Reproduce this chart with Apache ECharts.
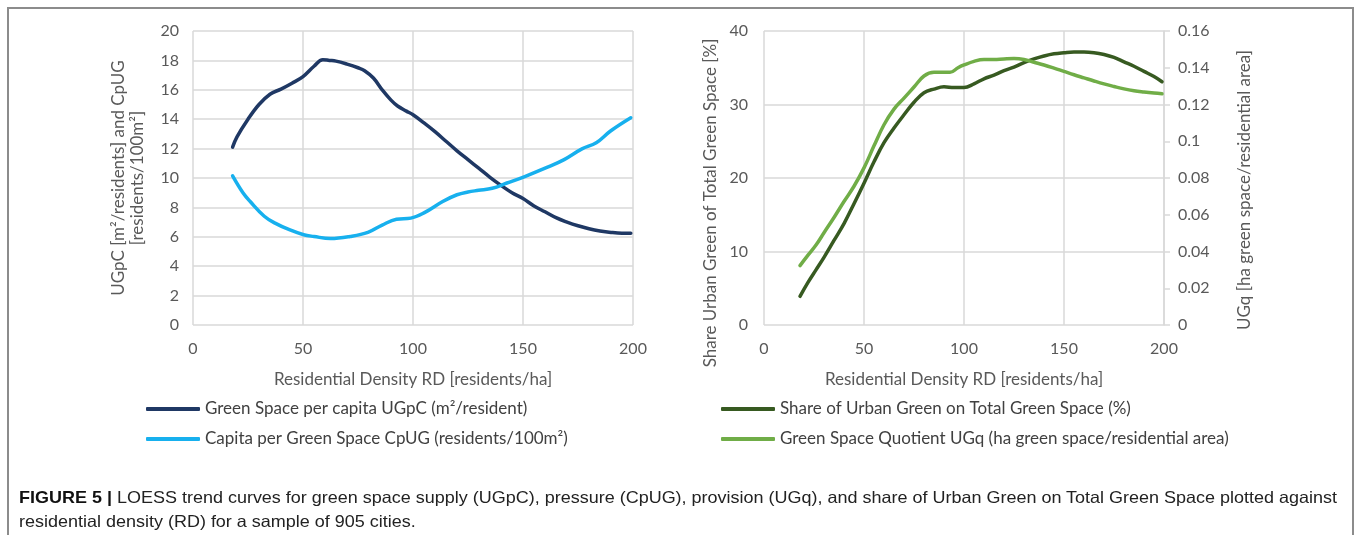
<!DOCTYPE html>
<html>
<head>
<meta charset="utf-8">
<script src="https://cdn.jsdelivr.net/npm/echarts@6/dist/echarts.min.js"></script>
<style>
html,body{margin:0;padding:0;background:#fff;}
#frame{position:absolute;left:7px;top:7px;width:1347px;height:540px;border:2px solid #8c8c8c;border-bottom:none;box-sizing:border-box;}
#chart{position:absolute;left:0;top:0;width:1357px;height:535px;}
.cap{position:absolute;left:19px;font-family:"Liberation Sans",Arial,sans-serif;font-size:16.5px;line-height:20px;color:#222;white-space:nowrap;transform-origin:0 50%;}
.cap b{color:#111;}
</style>
</head>
<body>
<div id="frame"></div>
<div id="chart"></div>
<div class="cap" id="cap1" style="top:487px"><b>FIGURE 5 |</b> LOESS trend curves for green space supply (UGpC), pressure (CpUG), provision (UGq), and share of Urban Green on Total Green Space plotted against</div>
<div class="cap" id="cap2" style="top:511px">residential density (RD) for a sample of 905 cities.</div>
<script>
// ---- data ----
const seriesNames = [
  "Green Space per capita UGpC (m²/resident)",
  "Capita per Green Space CpUG (residents/100m²)",
  "Share of Urban Green on Total Green Space (%)",
  "Green Space Quotient UGq (ha green space/residential area)"
];
const ugpcX = [18,20,25,30,35,40,45,50,55,59,62,65,70,75,78,82,86,90,93,97,100,105,110,115,120,125,130,135,140,145,150,155,160,165,170,175,180,185,190,195,199];
const ugpcY = [12.1,12.8,14.0,15.0,15.7,16.05,16.45,16.9,17.6,18.05,18.0,17.95,17.75,17.5,17.3,16.8,16.0,15.3,14.9,14.55,14.3,13.75,13.15,12.5,11.85,11.25,10.65,10.05,9.5,9.0,8.6,8.1,7.7,7.3,7.0,6.75,6.55,6.4,6.3,6.25,6.25];
const cpugX = [18,22.7,26,32.4,37.3,43.8,50.3,55,62.5,71.4,79.5,86,92.5,99,105.4,113.5,120,125,129.8,136,142.7,150.8,160.6,168.7,176.8,183.3,189.8,199];
const cpugY = [10.15,9.0,8.4,7.4,6.93,6.48,6.14,6.02,5.88,6.02,6.3,6.8,7.2,7.27,7.66,8.4,8.86,9.05,9.16,9.3,9.66,10.1,10.7,11.25,11.98,12.4,13.2,14.1];
const shareX = [18,22,26,30,35,40,45,50,55,60,65,70,75,80,85,90,95,100,105,110,115,120,125,130,135,140,145,150,155,160,165,170,175,180,185,190,195,199];
const shareY = [3.9,5.8,7.5,9.2,11.5,13.8,16.5,19.3,22.2,24.8,26.8,28.6,30.3,31.6,32.1,32.4,32.3,32.3,32.8,33.5,34.0,34.6,35.1,35.7,36.2,36.6,36.9,37.05,37.15,37.15,37.05,36.8,36.4,35.8,35.2,34.5,33.8,33.1];
const ugqX = [18,22,26,30,35,40,45,50,55,60,65,70,75,80,85,90,93,97,100,105,110,115,120,125,130,135,140,145,150,155,160,165,170,175,180,185,190,195,199];
const ugqY = [0.0323,0.038,0.0435,0.0502,0.0585,0.0672,0.0755,0.0855,0.0975,0.109,0.1175,0.1235,0.1295,0.1355,0.1375,0.1375,0.1375,0.140,0.1415,0.1435,0.1445,0.1445,0.1448,0.145,0.1445,0.143,0.1415,0.1398,0.138,0.1362,0.1345,0.1328,0.1312,0.1298,0.1285,0.1275,0.1268,0.1262,0.1258];

const zip = (xs, ys) => xs.map((x, i) => [x, ys[i]]);
const FONT = "Lato";
const tickColor = "#595959";
const gridColor = "#d9d9d9";
const colors = ["#1f3864", "#17b0ee", "#375a21", "#70ad47"];

const chart = echarts.init(document.getElementById('chart'), null, {renderer: 'canvas'});

function xAxis(gridIndex) {
  return {
    type: 'value', gridIndex, min: 0, max: 200, interval: 50,
    name: 'Residential Density RD [residents/ha]', nameLocation: 'middle', nameGap: 46,
    nameTextStyle: {fontFamily: FONT, fontSize: 17, color: tickColor},
    axisLine: {show: false}, axisTick: {show: false},
    axisLabel: {fontFamily: FONT, fontSize: 16, color: tickColor, margin: 16},
    splitLine: {show: true, lineStyle: {color: gridColor, width: 1.5}}
  };
}

const legendText = {fontFamily: FONT, fontSize: 17, color: '#404040', lineHeight: 18};

const option = {
  animation: false,
  color: colors,
  grid: [
    {left: 193, width: 440, top: 31, height: 294},
    {left: 764, width: 400, top: 31, height: 294}
  ],
  xAxis: [xAxis(0), xAxis(1)],
  yAxis: [
    {
      type: 'value', gridIndex: 0, min: 0, max: 20, interval: 2,
      name: 'UGpC [m²/residents] and CpUG\n[residents/100m²]', nameLocation: 'middle', nameGap: 46, nameRotate: 90,
      nameTextStyle: {fontFamily: FONT, fontSize: 17, color: tickColor, lineHeight: 19},
      axisLine: {show: false}, axisTick: {show: false},
      axisLabel: {fontFamily: FONT, fontSize: 16, color: tickColor, margin: 14},
      splitLine: {show: true, lineStyle: {color: gridColor, width: 1.5}}
    },
    {
      type: 'value', gridIndex: 1, min: 0, max: 40, interval: 10, position: 'left',
      axisLine: {show: false}, axisTick: {show: false},
      axisLabel: {fontFamily: FONT, fontSize: 16, color: tickColor, margin: 16},
      splitLine: {show: true, lineStyle: {color: gridColor, width: 1.5}}
    },
    {
      type: 'value', gridIndex: 1, min: 0, max: 0.16, interval: 0.02, position: 'right',
      axisLine: {show: true, lineStyle: {color: gridColor, width: 1.5}},
      axisTick: {show: true, length: 6, lineStyle: {color: gridColor, width: 1.5}},
      axisLabel: {fontFamily: FONT, fontSize: 16, color: tickColor, margin: 14,
        formatter: v => v === 0 ? '0' : String(Math.round(v * 100) / 100)},
      splitLine: {show: false}
    }
  ],
  legend: [
    {
      data: [seriesNames[0], seriesNames[1]], orient: 'vertical', left: 146, top: 400, padding: 0,
      itemWidth: 54, itemHeight: 4, itemGap: 12, icon: 'roundRect', textStyle: legendText
    },
    {
      data: [seriesNames[2], seriesNames[3]], orient: 'vertical', left: 721, top: 400, padding: 0,
      itemWidth: 54, itemHeight: 4, itemGap: 12, icon: 'roundRect', textStyle: legendText
    }
  ],
  graphic: [
    {type: 'text', x: 711, y: 203, rotation: Math.PI / 2,
      style: {text: 'Share Urban Green of Total Green Space [%]', fontFamily: FONT, fontSize: 17, fill: tickColor, textAlign: 'center', textVerticalAlign: 'middle'}},
    {type: 'text', x: 1245, y: 190, rotation: Math.PI / 2,
      style: {text: 'UGq [ha green space/residential area]', fontFamily: FONT, fontSize: 17, fill: tickColor, textAlign: 'center', textVerticalAlign: 'middle'}}
  ],
  series: [
    {name: seriesNames[0], type: 'line', xAxisIndex: 0, yAxisIndex: 0, data: zip(ugpcX, ugpcY),
      smooth: 0.4, showSymbol: false, lineStyle: {width: 3.5, color: colors[0], cap: 'round'}},
    {name: seriesNames[1], type: 'line', xAxisIndex: 0, yAxisIndex: 0, data: zip(cpugX, cpugY),
      smooth: 0.4, showSymbol: false, lineStyle: {width: 3.5, color: colors[1], cap: 'round'}},
    {name: seriesNames[2], type: 'line', xAxisIndex: 1, yAxisIndex: 1, data: zip(shareX, shareY),
      smooth: 0.4, showSymbol: false, lineStyle: {width: 3.5, color: colors[2], cap: 'round'}},
    {name: seriesNames[3], type: 'line', xAxisIndex: 1, yAxisIndex: 2, data: zip(ugqX, ugqY),
      smooth: 0.4, showSymbol: false, lineStyle: {width: 3.5, color: colors[3], cap: 'round'}}
  ]
};
chart.setOption(option);

// stretch caption lines to the reference's horizontal extent
(function () {
  const c1 = document.getElementById('cap1');
  const c2 = document.getElementById('cap2');
  const s = 1318 / c1.getBoundingClientRect().width;
  c1.style.transform = 'scaleX(' + s + ')';
  c2.style.transform = 'scaleX(' + s + ')';
})();
</script>
</body>
</html>
